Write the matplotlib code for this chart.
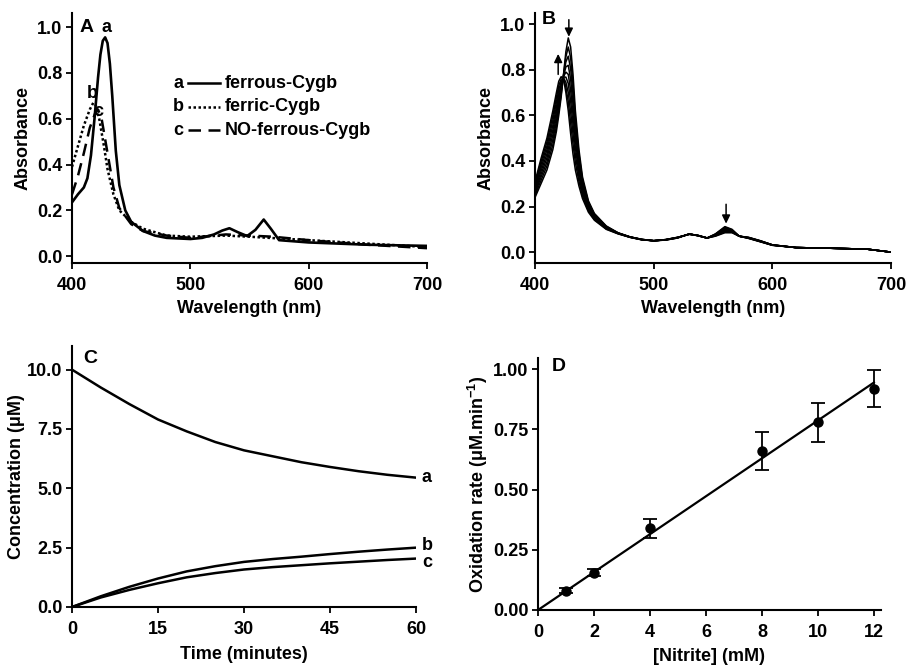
import numpy as np
import matplotlib
matplotlib.use("Agg")
import matplotlib.pyplot as plt

plt.rcParams["font.family"] = ["Liberation Sans", "DejaVu Sans"]
plt.rcParams["font.weight"] = "bold"
plt.rcParams["axes.labelweight"] = "bold"
plt.rcParams["mathtext.fontset"] = "custom"
plt.rcParams["mathtext.rm"] = "Liberation Sans:bold"
plt.rcParams["mathtext.default"] = "rm"

# ---- Panel A: spectra of the three Cygb forms ----
wl_a = [400, 405, 410, 413, 416, 419, 422, 424, 426, 428, 430, 432, 434, 437, 440, 445, 450,
        460, 470, 480, 500, 510, 520, 527, 533, 540, 548, 555, 562, 568, 575, 600, 650, 700]
ferrous = [0.235, 0.27, 0.30, 0.34, 0.44, 0.60, 0.78, 0.88, 0.94, 0.955, 0.93, 0.84, 0.70, 0.46, 0.31, 0.20, 0.15,
           0.11, 0.09, 0.08, 0.075, 0.08, 0.095, 0.112, 0.122, 0.105, 0.088, 0.115, 0.16, 0.12, 0.07, 0.06, 0.05, 0.045]
wl_b = [400, 405, 410, 415, 418, 420, 423, 427, 430, 435, 440, 450, 460, 480, 500, 530, 550, 600, 650, 700]
ferric = [0.39, 0.48, 0.57, 0.64, 0.67, 0.66, 0.60, 0.48, 0.38, 0.27, 0.20, 0.15, 0.12, 0.09, 0.085,
          0.09, 0.085, 0.07, 0.055, 0.04]
wl_c = [400, 405, 410, 415, 420, 422, 425, 430, 435, 440, 450, 460, 480, 500, 530, 550, 570, 600, 650, 700]
no_ferrous = [0.27, 0.35, 0.45, 0.56, 0.63, 0.64, 0.60, 0.45, 0.30, 0.21, 0.14, 0.11, 0.09, 0.08,
              0.095, 0.09, 0.085, 0.07, 0.05, 0.035]
legend_names = ["ferrous-Cygb", "ferric-Cygb", "NO-ferrous-Cygb"]

# ---- Panel B: repeated spectra during oxidation ----
wl_scan = [400, 405, 410, 415, 418, 420, 422, 424, 426, 428, 430, 432, 434, 437, 440, 445, 450,
           460, 470, 480, 490, 500, 510, 520, 530, 537, 545, 552, 560, 566, 572, 580, 590, 600,
           620, 650, 680, 700]
scans = [
    [.24, .30, .36, .45, .53, .60, .68, .78, .88, .94, .90, .78, .62, .45, .33, .225, .17, .115, .085, .067, .056,
     .05, .053, .062, .08, .072, .062, .08, .112, .10, .07, .06, .045, .03, .02, .017, .013, 0],
    [.249, .314, .378, .471, .551, .619, .691, .778, .858, .90, .853, .736, .588, .43, .318, .219, .166, .113, .084,
     .067, .056, .05, .053, .062, .08, .072, .062, .079, .109, .098, .07, .061, .046, .03, .02, .017, .013, 0],
    [.258, .328, .395, .493, .573, .638, .703, .775, .835, .86, .805, .693, .555, .41, .306, .213, .163, .111, .084,
     .067, .056, .05, .054, .063, .08, .073, .062, .078, .105, .096, .07, .061, .046, .031, .02, .017, .013, 0],
    [.266, .341, .413, .514, .594, .656, .714, .773, .813, .82, .758, .649, .523, .39, .294, .206, .159, .109, .083,
     .066, .055, .05, .054, .063, .079, .073, .062, .076, .102, .094, .07, .062, .047, .031, .02, .017, .013, 0],
    [.275, .355, .43, .535, .615, .675, .725, .77, .79, .78, .71, .605, .49, .37, .283, .20, .155, .108, .083,
     .066, .055, .05, .054, .064, .079, .073, .062, .075, .099, .093, .07, .063, .048, .031, .02, .017, .013, 0],
    [.284, .369, .448, .556, .636, .694, .736, .768, .768, .74, .663, .561, .458, .35, .271, .194, .151, .106, .082,
     .066, .055, .05, .054, .064, .079, .073, .062, .074, .095, .091, .07, .063, .048, .031, .02, .017, .013, 0],
    [.293, .383, .465, .578, .658, .713, .748, .765, .745, .70, .615, .518, .425, .33, .259, .188, .148, .104, .082,
     .066, .055, .05, .055, .064, .079, .074, .062, .073, .092, .089, .07, .064, .049, .032, .02, .017, .013, 0],
    [.301, .396, .483, .599, .679, .731, .759, .763, .723, .66, .568, .474, .393, .31, .247, .181, .144, .102, .081,
     .065, .054, .05, .055, .065, .078, .074, .062, .071, .088, .087, .07, .064, .049, .032, .02, .017, .013, 0],
    [.31, .41, .50, .62, .70, .75, .77, .76, .70, .62, .52, .43, .36, .29, .235, .175, .14, .10, .08, .065, .054,
     .05, .055, .065, .078, .074, .062, .07, .085, .085, .07, .065, .05, .032, .02, .017, .013, 0],
]

# ---- Panel C: concentration vs time ----
time_min = [0, 5, 10, 15, 20, 25, 30, 35, 40, 45, 50, 55, 60]
conc_a = [10.0, 9.25, 8.55, 7.9, 7.4, 6.95, 6.6, 6.35, 6.1, 5.9, 5.72, 5.57, 5.45]
conc_b = [0.0, 0.45, 0.85, 1.2, 1.5, 1.72, 1.9, 2.02, 2.12, 2.23, 2.33, 2.42, 2.5]
conc_c = [0.0, 0.4, 0.72, 1.0, 1.25, 1.43, 1.58, 1.68, 1.76, 1.84, 1.91, 1.98, 2.04]

# ---- Panel D: oxidation rate vs nitrite ----
nitrite = [1, 2, 4, 8, 10, 12]
rate = [0.08, 0.155, 0.34, 0.66, 0.78, 0.92]
rate_err = [0.01, 0.015, 0.04, 0.08, 0.08, 0.077]
fit_x = [0, 12]
fit_y = [0.0, 0.945]

FS = 13


def style(ax):
    for s in ["top", "right"]:
        ax.spines[s].set_visible(False)
    for s in ["left", "bottom"]:
        ax.spines[s].set_linewidth(1.5)
    ax.tick_params(direction="out", length=4, width=1.3, labelsize=FS)
    ax.tick_params(axis="x", pad=6)
    ax.tick_params(axis="y", pad=3)
    for lab in ax.get_xticklabels() + ax.get_yticklabels():
        lab.set_fontweight("bold")


fig = plt.figure(figsize=(9.07, 6.66), dpi=100)

# Panel A
axA = fig.add_axes([0.0794, 0.605, 0.3914, 0.375])
axA.plot(wl_a, ferrous, color="black", lw=1.9)
axA.plot(wl_b, ferric, color="black", lw=1.8, ls=(0, (1, 1)))
axA.plot(wl_c, no_ferrous, color="black", lw=1.8, ls=(0, (5, 3)))
axA.set_xlim(400, 700)
axA.set_ylim(-0.03, 1.06)
axA.set_xticks([400, 500, 600, 700])
axA.set_yticks([0.0, 0.2, 0.4, 0.6, 0.8, 1.0])
axA.set_yticklabels(["0.0", "0.2", "0.4", "0.6", "0.8", "1.0"])
axA.set_xlabel("Wavelength (nm)", fontsize=FS, labelpad=4)
axA.set_ylabel("Absorbance", fontsize=FS, labelpad=4)
axA.text(406, 1.0, "A", fontsize=FS + 1, fontweight="bold", va="center")
axA.text(429.5, 1.0, "a", fontsize=FS, fontweight="bold", va="center", ha="center")
axA.text(417, 0.71, "b", fontsize=FS, fontweight="bold", va="center", ha="center")
axA.text(422, 0.63, "c", fontsize=FS, fontweight="bold", va="center", ha="center")
styles = ["-", (0, (1, 1)), (0, (5, 3))]
for i, (name, st) in enumerate(zip(legend_names, styles)):
    yy = 0.755 - i * 0.103
    axA.text(490, yy, "abc"[i], fontsize=FS, fontweight="bold", va="center", ha="center")
    axA.plot([498, 525], [yy, yy], color="black", lw=1.8, ls=st)
    axA.text(529, yy, name, fontsize=FS, fontweight="bold", va="center")
style(axA)

# Panel B
axB = fig.add_axes([0.5899, 0.605, 0.3925, 0.375])
for sp in scans:
    axB.plot(wl_scan, sp, color="black", lw=1.1)
axB.set_xlim(400, 700)
axB.set_ylim(-0.048, 1.048)
axB.set_xticks([400, 500, 600, 700])
axB.set_yticks([0.0, 0.2, 0.4, 0.6, 0.8, 1.0])
axB.set_yticklabels(["0.0", "0.2", "0.4", "0.6", "0.8", "1.0"])
axB.set_xlabel("Wavelength (nm)", fontsize=FS, labelpad=4)
axB.set_ylabel("Absorbance", fontsize=FS, labelpad=4)
axB.text(406, 1.02, "B", fontsize=FS + 1, fontweight="bold", va="center")
arrow = dict(arrowstyle="-|>,head_length=0.45,head_width=0.22", color="black", lw=1.1,
             mutation_scale=11, shrinkA=0, shrinkB=0)
axB.annotate("", xy=(428.5, 0.945), xytext=(428.5, 1.02), arrowprops=arrow)
axB.annotate("", xy=(419.5, 0.87), xytext=(419.5, 0.78), arrowprops=arrow)
axB.annotate("", xy=(561, 0.125), xytext=(561, 0.21), arrowprops=arrow)
style(axB)

# Panel C
axC = fig.add_axes([0.0794, 0.0886, 0.3793, 0.392])
axC.plot(time_min, conc_a, color="black", lw=1.8)
axC.plot(time_min, conc_b, color="black", lw=1.8)
axC.plot(time_min, conc_c, color="black", lw=1.8)
axC.set_xlim(0, 60)
axC.set_ylim(0, 11.0)
axC.set_xticks([0, 15, 30, 45, 60])
axC.set_yticks([0.0, 2.5, 5.0, 7.5, 10.0])
axC.set_yticklabels(["0.0", "2.5", "5.0", "7.5", "10.0"])
axC.set_xlabel("Time (minutes)", fontsize=FS, labelpad=6)
axC.set_ylabel("Concentration (μM)", fontsize=FS, labelpad=1.5)
axC.text(2, 10.45, "C", fontsize=FS + 1, fontweight="bold", va="center")
axC.text(61, conc_a[-1], "a", fontsize=FS, fontweight="bold", va="center", clip_on=False)
axC.text(61, conc_b[-1] + 0.1, "b", fontsize=FS, fontweight="bold", va="center", clip_on=False)
axC.text(61, conc_c[-1] - 0.15, "c", fontsize=FS, fontweight="bold", va="center", clip_on=False)
style(axC)

# Panel D
axD = fig.add_axes([0.5932, 0.0841, 0.378, 0.378])
axD.plot(fit_x, fit_y, color="black", lw=1.6)
axD.errorbar(nitrite, rate, yerr=rate_err, fmt="o", color="black", ms=6.5,
             capsize=5, elinewidth=1.3, capthick=1.3)
axD.set_xlim(0, 12.25)
axD.set_ylim(0, 1.046)
axD.set_xticks([0, 2, 4, 6, 8, 10, 12])
axD.set_yticks([0.0, 0.25, 0.5, 0.75, 1.0])
axD.set_yticklabels(["0.00", "0.25", "0.50", "0.75", "1.00"])
axD.set_xlabel("[Nitrite] (mM)", fontsize=FS, labelpad=5)
axD.set_ylabel("Oxidation rate (μM.min$^{-1}$)", fontsize=FS, labelpad=2)
axD.text(0.5, 1.01, "D", fontsize=FS + 1, fontweight="bold", va="center")
style(axD)

fig.savefig("out.png", dpi=100)
